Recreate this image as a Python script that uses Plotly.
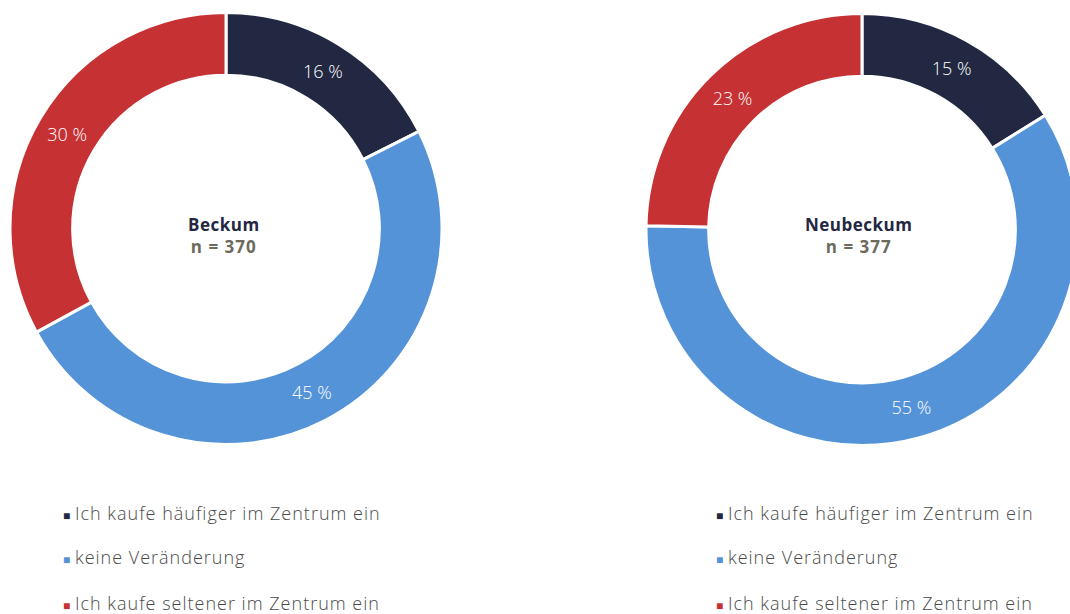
import plotly.graph_objects as go

categories = ["Ich kaufe häufiger im Zentrum ein", "keine Veränderung", "Ich kaufe seltener im Zentrum ein"]
beckum_values = [16, 45, 30]
neubeckum_values = [15, 55, 23]
titles = ["Beckum", "Neubeckum"]
n_values = [370, 377]
colors = ["#222842", "#5593d8", "#c63234"]

W, H = 1080, 614
FONT = "Open Sans"

fig = go.Figure()

def px_dom(x0, x1, ytop, ybot):
    return dict(x=[x0 / W, x1 / W], y=[1 - ybot / H, 1 - ytop / H])

domains = [px_dom(10, 442, 12, 445), px_dom(646, 1078, 13, 446)]
for vals, dom in zip([beckum_values, neubeckum_values], domains):
    fig.add_trace(go.Pie(
        labels=categories, values=vals, domain=dom,
        hole=0.71, sort=False, direction="clockwise", rotation=0,
        marker=dict(colors=colors, line=dict(color="white", width=3)),
        texttemplate="%{value} %", textposition="inside",
        insidetextorientation="horizontal",
        textfont=dict(color="white", size=18, family=FONT, weight=300),
        showlegend=False, hoverinfo="label+value",
    ))

centers = [224, 859]
annotations = []
for cx, t, n in zip(centers, titles, n_values):
    annotations.append(dict(
        x=cx / W, y=1 - 236 / H, xref="paper", yref="paper",
        xanchor="center", yanchor="middle",
        text=(f"<b><span style='letter-spacing:0.5px'>{t}</span></b><br>"
              f"<b><span style='color:#6b6a5c;letter-spacing:1px'>n = {n}</span></b>"),
        showarrow=False, font=dict(size=17, color="#232742", family=FONT),
        align="center",
    ))

legend_x = [61, 714]
rows = [513, 557, 603]
for lx in legend_x:
    for cat, col, ry in zip(categories, colors, rows):
        annotations.append(dict(
            x=lx / W, y=1 - ry / H, xref="paper", yref="paper",
            xanchor="left", yanchor="middle",
            text=(f"<span style='color:{col};font-size:12px'>■</span> "
                  f"<span style='letter-spacing:1px'>{cat}</span>"),
            showarrow=False, font=dict(size=18, color="#4a4a4a", family=FONT, weight=300),
        ))

fig.update_layout(
    width=W, height=H, margin=dict(l=0, r=0, t=0, b=0),
    paper_bgcolor="white", plot_bgcolor="white",
    annotations=annotations, showlegend=False,
)

fig.write_html(
    "out.html",
    config={"displayModeBar": False},
    post_script="document.body.style.margin='0';document.body.style.overflow='hidden';",
)
